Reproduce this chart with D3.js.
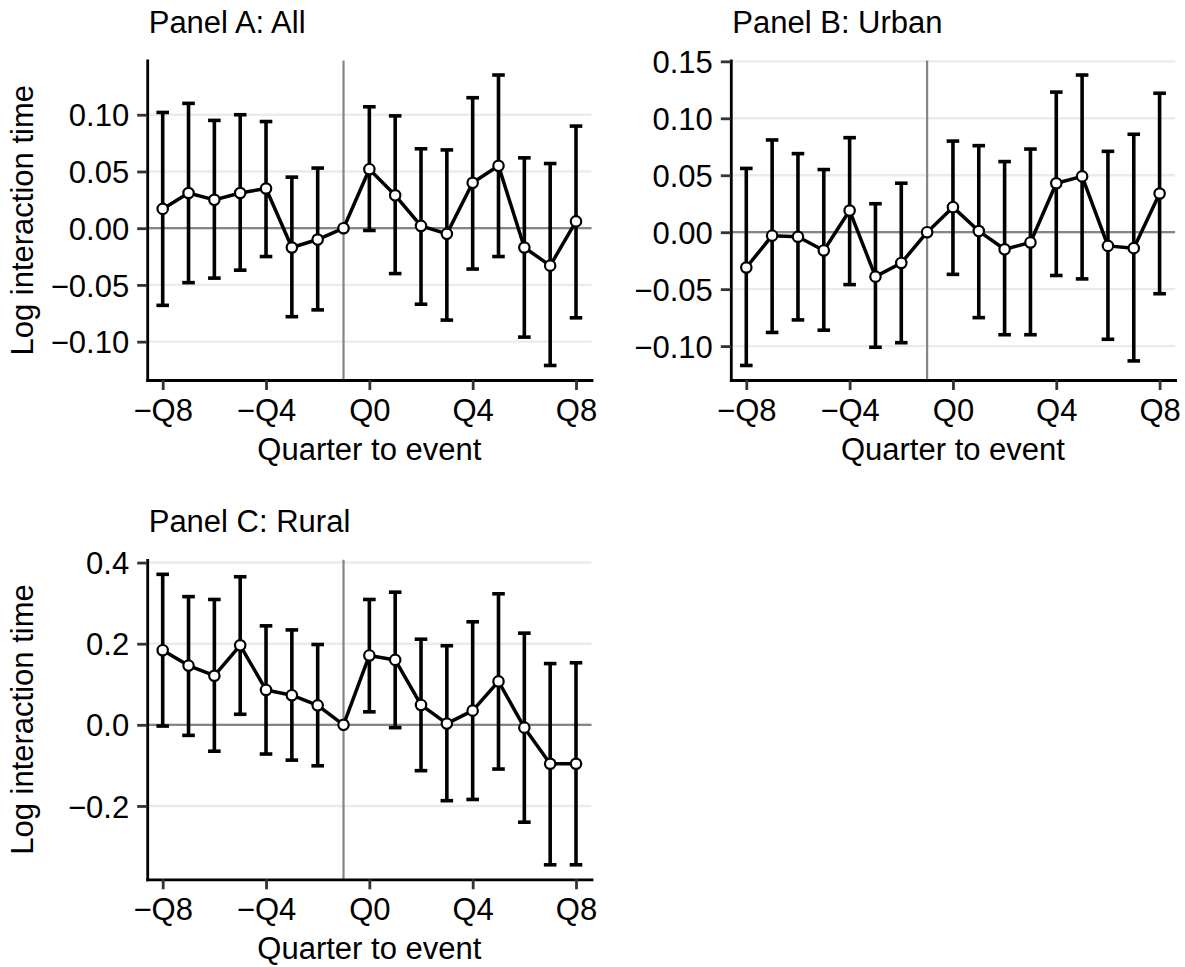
<!DOCTYPE html>
<html>
<head>
<meta charset="utf-8">
<script src="https://cdn.jsdelivr.net/npm/d3@7"></script>
<style>
  body { margin: 0; background: #fff; }
  svg { display: block; font-family: "Liberation Sans", Arial, sans-serif; }
</style>
</head>
<body>
<svg id="chart" width="1185" height="967"></svg>
<script>
// quarters relative to the event (Q-1 is the reference quarter)
const quarters = [-8, -7, -6, -5, -4, -3, -2, -1, 0, 1, 2, 3, 4, 5, 6, 7, 8];
const xTickValues = [-8, -4, 0, 4, 8];
const xTickLabels = ["\u2212Q8", "\u2212Q4", "Q0", "Q4", "Q8"];

// Panel A: All
const estAll   = [0.017, 0.031, 0.025, 0.031, 0.035, -0.017, -0.010, 0, 0.052, 0.029, 0.002, -0.005, 0.040, 0.055, -0.017, -0.033, 0.006];
const lowAll   = [-0.068, -0.048, -0.044, -0.037, -0.025, -0.078, -0.072, null, -0.002, -0.040, -0.067, -0.081, -0.036, -0.025, -0.096, -0.121, -0.079];
const highAll  = [0.102, 0.110, 0.095, 0.100, 0.094, 0.045, 0.053, null, 0.107, 0.099, 0.070, 0.069, 0.115, 0.135, 0.062, 0.057, 0.090];
const yTicksAll = [-0.10, -0.05, 0.00, 0.05, 0.10];

// Panel B: Urban
const estUrban  = [-0.031, -0.003, -0.004, -0.016, 0.019, -0.039, -0.027, 0, 0.022, 0.001, -0.015, -0.009, 0.043, 0.049, -0.012, -0.014, 0.034];
const lowUrban  = [-0.117, -0.088, -0.077, -0.086, -0.046, -0.101, -0.097, null, -0.037, -0.075, -0.090, -0.090, -0.038, -0.041, -0.094, -0.113, -0.054];
const highUrban = [0.056, 0.081, 0.069, 0.055, 0.083, 0.025, 0.043, null, 0.080, 0.076, 0.062, 0.073, 0.123, 0.138, 0.071, 0.086, 0.122];
const yTicksUrban = [-0.10, -0.05, 0.00, 0.05, 0.10, 0.15];

// Panel C: Rural
const estRural  = [0.184, 0.146, 0.121, 0.196, 0.086, 0.073, 0.048, 0, 0.171, 0.160, 0.049, 0.003, 0.035, 0.107, -0.007, -0.096, -0.096];
const lowRural  = [-0.003, -0.026, -0.065, 0.026, -0.072, -0.087, -0.101, null, 0.032, -0.007, -0.113, -0.187, -0.184, -0.109, -0.240, -0.345, -0.345];
const highRural = [0.371, 0.316, 0.309, 0.365, 0.244, 0.234, 0.198, null, 0.309, 0.327, 0.211, 0.195, 0.254, 0.323, 0.226, 0.151, 0.153];
const yTicksRural = [-0.2, 0.0, 0.2, 0.4];

const panels = [
  { title: "Panel A: All",   est: estAll,   low: lowAll,   high: highAll,   ticks: yTicksAll,   digits: 2, x: 147.2, y: 60.5 },
  { title: "Panel B: Urban", est: estUrban, low: lowUrban, high: highUrban, ticks: yTicksUrban, digits: 2, x: 730.8, y: 60.5 },
  { title: "Panel C: Rural", est: estRural, low: lowRural, high: highRural, ticks: yTicksRural, digits: 1, x: 147.2, y: 559.8 }
];

const W = 444.3, H = 319.5;
const fontSize = 31;
const svg = d3.select("#chart");

const fmt = (digits) => (v) => {
  const s = Math.abs(v).toFixed(digits);
  return v < -1e-9 ? "\u2212" + s : s;
};

panels.forEach(p => {
  const g = svg.append("g").attr("transform", `translate(${p.x},${p.y})`);

  const rows = quarters.map((q, i) => ({ q, est: p.est[i], low: p.low[i], high: p.high[i] }));

  // ggplot style: 5% expansion on y, discrete x (+0.6)
  const lo = d3.min(rows, d => d.low == null ? d.est : d.low);
  const hi = d3.max(rows, d => d.high == null ? d.est : d.high);
  const pad = (hi - lo) * 0.05;

  const x = d3.scaleLinear().domain([-8.6, 8.6]).range([0, W]);
  const y = d3.scaleLinear().domain([lo - pad, hi + pad]).range([H, 0]);

  // grid
  g.append("g").selectAll("line").data(p.ticks).join("line")
    .attr("x1", 0).attr("x2", W)
    .attr("y1", d => y(d)).attr("y2", d => y(d))
    .attr("stroke", "#ebebeb").attr("stroke-width", 2.4);

  // reference lines
  g.append("line").attr("x1", 0).attr("x2", W).attr("y1", y(0)).attr("y2", y(0))
    .attr("stroke", "#858585").attr("stroke-width", 2.2);
  g.append("line").attr("x1", x(-1)).attr("x2", x(-1)).attr("y1", 0).attr("y2", H)
    .attr("stroke", "#858585").attr("stroke-width", 2.2);

  // error bars
  const bars = rows.filter(d => d.low != null);
  const eb = g.append("g").attr("stroke", "#000").attr("stroke-width", 3.6);
  eb.selectAll("line.v").data(bars).join("line").attr("class", "v")
    .attr("x1", d => x(d.q)).attr("x2", d => x(d.q))
    .attr("y1", d => y(d.low)).attr("y2", d => y(d.high));
  eb.selectAll("line.t").data(bars).join("line").attr("class", "t")
    .attr("x1", d => x(d.q) - 6.3).attr("x2", d => x(d.q) + 6.3)
    .attr("y1", d => y(d.high)).attr("y2", d => y(d.high));
  eb.selectAll("line.b").data(bars).join("line").attr("class", "b")
    .attr("x1", d => x(d.q) - 6.3).attr("x2", d => x(d.q) + 6.3)
    .attr("y1", d => y(d.low)).attr("y2", d => y(d.low));

  // estimate line + points
  const line = d3.line().x(d => x(d.q)).y(d => y(d.est));
  g.append("path").datum(rows).attr("d", line)
    .attr("fill", "none").attr("stroke", "#000").attr("stroke-width", 3.5)
    .attr("stroke-linejoin", "round");
  g.append("g").selectAll("circle").data(rows).join("circle")
    .attr("cx", d => x(d.q)).attr("cy", d => y(d.est)).attr("r", 5.2)
    .attr("fill", "#fff").attr("stroke", "#000").attr("stroke-width", 2.2);

  // axes
  const yAxis = d3.axisLeft(y).tickValues(p.ticks).tickFormat(fmt(p.digits))
    .tickSize(10).tickSizeOuter(0).tickPadding(8);
  const ya = g.append("g").call(yAxis);
  const xAxis = d3.axisBottom(x).tickValues(xTickValues).tickFormat((d, i) => xTickLabels[i])
    .tickSize(10).tickSizeOuter(0).tickPadding(9);
  const xa = g.append("g").attr("transform", `translate(0,${H})`).call(xAxis);

  [ya, xa].forEach(a => {
    a.select(".domain").attr("stroke", "#000").attr("stroke-width", 2.8).attr("stroke-linecap", "square");
    a.selectAll(".tick line").attr("stroke", "#333").attr("stroke-width", 2.8);
    a.selectAll(".tick text").attr("fill", "#000").style("font-size", fontSize + "px");
    a.attr("font-family", null).attr("font-size", null);
  });
  ya.selectAll(".tick text").attr("dy", "0.36em");

  // titles
  g.append("text").attr("x", 1.5).attr("y", -27.5).text(p.title)
    .style("font-size", fontSize + "px");
  g.append("text").attr("x", W / 2).attr("y", H + 80).attr("text-anchor", "middle")
    .text("Quarter to event").style("font-size", fontSize + "px");
  if (p.x < 400) {
    g.append("text").attr("transform", `translate(${33 - p.x},${H / 2}) rotate(-90)`)
      .attr("text-anchor", "middle").text("Log interaction time")
      .style("font-size", fontSize + "px");
  }
});
</script>
</body>
</html>
